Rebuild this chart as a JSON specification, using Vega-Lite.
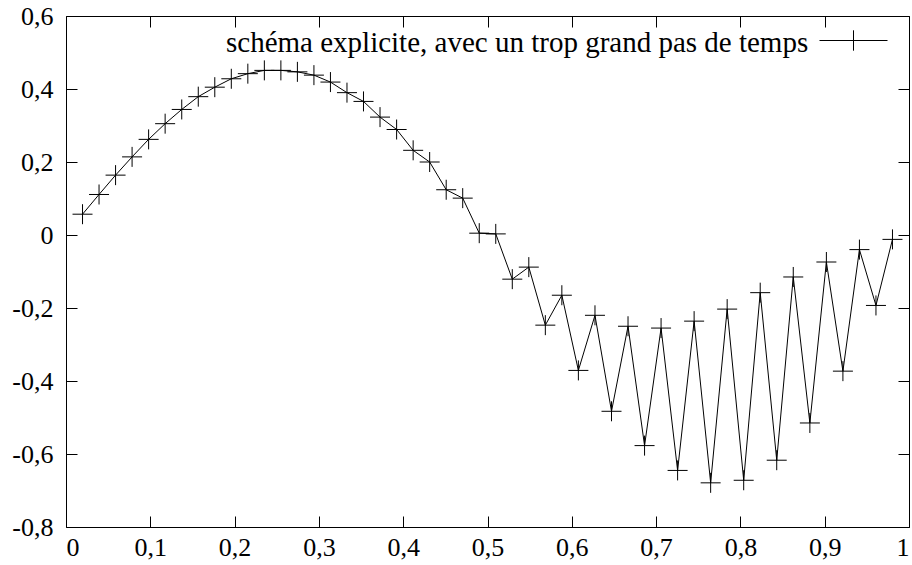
{
  "$schema": "https://vega.github.io/schema/vega-lite/v6.json",
  "width": 843,
  "height": 511,
  "autosize": {"type": "none"},
  "padding": {"left": 66, "top": 16, "right": 3, "bottom": 38},
  "background": "white",
  "config": {
    "view": {"stroke": null},
    "font": "Liberation Serif",
    "axis": {
      "domainColor": "black",
      "domainWidth": 1,
      "tickColor": "black",
      "tickWidth": 1,
      "labelColor": "black",
      "labelFont": "Liberation Serif",
      "labelFontSize": 26,
      "grid": false,
      "title": null
    }
  },
  "data": {
    "values": [
      {"x": 0.0196, "y": 0.057, "serie": "s"},
      {"x": 0.0392, "y": 0.111, "serie": "s"},
      {"x": 0.0588, "y": 0.164, "serie": "s"},
      {"x": 0.0784, "y": 0.214, "serie": "s"},
      {"x": 0.0980, "y": 0.262, "serie": "s"},
      {"x": 0.1176, "y": 0.305, "serie": "s"},
      {"x": 0.1373, "y": 0.344, "serie": "s"},
      {"x": 0.1569, "y": 0.379, "serie": "s"},
      {"x": 0.1765, "y": 0.405, "serie": "s"},
      {"x": 0.1961, "y": 0.428, "serie": "s"},
      {"x": 0.2157, "y": 0.442, "serie": "s"},
      {"x": 0.2353, "y": 0.451, "serie": "s"},
      {"x": 0.2549, "y": 0.451, "serie": "s"},
      {"x": 0.2745, "y": 0.447, "serie": "s"},
      {"x": 0.2941, "y": 0.438, "serie": "s"},
      {"x": 0.3137, "y": 0.419, "serie": "s"},
      {"x": 0.3333, "y": 0.390, "serie": "s"},
      {"x": 0.3529, "y": 0.366, "serie": "s"},
      {"x": 0.3725, "y": 0.323, "serie": "s"},
      {"x": 0.3922, "y": 0.289, "serie": "s"},
      {"x": 0.4118, "y": 0.232, "serie": "s"},
      {"x": 0.4314, "y": 0.200, "serie": "s"},
      {"x": 0.4510, "y": 0.124, "serie": "s"},
      {"x": 0.4706, "y": 0.101, "serie": "s"},
      {"x": 0.4902, "y": 0.005, "serie": "s"},
      {"x": 0.5098, "y": 0.003, "serie": "s"},
      {"x": 0.5294, "y": -0.121, "serie": "s"},
      {"x": 0.5490, "y": -0.088, "serie": "s"},
      {"x": 0.5686, "y": -0.247, "serie": "s"},
      {"x": 0.5882, "y": -0.165, "serie": "s"},
      {"x": 0.6078, "y": -0.371, "serie": "s"},
      {"x": 0.6275, "y": -0.220, "serie": "s"},
      {"x": 0.6471, "y": -0.483, "serie": "s"},
      {"x": 0.6667, "y": -0.250, "serie": "s"},
      {"x": 0.6863, "y": -0.577, "serie": "s"},
      {"x": 0.7059, "y": -0.255, "serie": "s"},
      {"x": 0.7255, "y": -0.645, "serie": "s"},
      {"x": 0.7451, "y": -0.236, "serie": "s"},
      {"x": 0.7647, "y": -0.679, "serie": "s"},
      {"x": 0.7843, "y": -0.203, "serie": "s"},
      {"x": 0.8039, "y": -0.672, "serie": "s"},
      {"x": 0.8235, "y": -0.158, "serie": "s"},
      {"x": 0.8431, "y": -0.617, "serie": "s"},
      {"x": 0.8627, "y": -0.115, "serie": "s"},
      {"x": 0.8824, "y": -0.515, "serie": "s"},
      {"x": 0.9020, "y": -0.074, "serie": "s"},
      {"x": 0.9216, "y": -0.373, "serie": "s"},
      {"x": 0.9412, "y": -0.040, "serie": "s"},
      {"x": 0.9608, "y": -0.193, "serie": "s"},
      {"x": 0.9804, "y": -0.012, "serie": "s"}
    ]
  },
  "layer": [
    {
      "mark": {"type": "line", "color": "black", "strokeWidth": 1},
      "encoding": {
        "x": {
          "field": "x", "type": "quantitative",
          "scale": {"domain": [0, 1], "nice": false, "zero": false},
          "axis": {
            "orient": "bottom",
            "values": [0, 0.1, 0.2, 0.3, 0.4, 0.5, 0.6, 0.7, 0.8, 0.9, 1],
            "tickSize": -11,
            "labelPadding": 18,
            "labelFont": "Liberation Serif",
            "labelFontSize": 26,
            "labelColor": "black",
            "labelExpr": "abs(datum.value) < 1e-9 ? '0' : (abs(datum.value - 1) < 1e-9 ? '1' : replace(format(datum.value, '.1f'), '.', ','))"
          }
        },
        "y": {
          "field": "y", "type": "quantitative",
          "scale": {"domain": [-0.8, 0.6], "nice": false, "zero": false},
          "axis": {
            "orient": "left",
            "values": [-0.8, -0.6, -0.4, -0.2, 0, 0.2, 0.4, 0.6],
            "tickSize": -11,
            "labelPadding": 24,
            "labelFont": "Liberation Serif",
            "labelFontSize": 26,
            "labelColor": "black",
            "labelExpr": "abs(datum.value) < 1e-9 ? '0' : ((datum.value < 0 ? '-' : '') + replace(format(abs(datum.value), '.1f'), '.', ','))"
          }
        },
        "color": {
          "field": "serie", "type": "nominal",
          "scale": {"range": ["black"]},
          "legend": {
            "title": "schéma explicite, avec un trop grand pas de temps",
            "titleOrient": "left",
            "titleAnchor": "middle",
            "titleFont": "Liberation Serif",
            "titleFontSize": 29,
            "titleFontWeight": "normal",
            "titleColor": "black",
            "titleBaseline": "top",
            "titleLimit": 2000,
            "titlePadding": 10,
            "labelExpr": "''",
            "labelFontSize": 1,
            "symbolType": "M-1,0H1M0,-0.3V0.3",
            "symbolSize": 4624,
            "symbolStrokeColor": "black",
            "symbolFillColor": "transparent",
            "symbolStrokeWidth": 1,
            "orient": "none",
            "legendX": 160,
            "legendY": -10,
            "padding": 0
          }
        }
      }
    },
    {
      "mark": {"type": "point", "shape": "M-1,0H1M0,-1V1", "size": 400, "filled": false, "strokeWidth": 1, "opacity": 1},
      "encoding": {
        "x": {"field": "x", "type": "quantitative", "axis": null},
        "y": {"field": "y", "type": "quantitative", "axis": null},
        "color": {"field": "serie", "type": "nominal"}
      }
    },
    {
      "mark": {"type": "point", "opacity": 0},
      "encoding": {
        "x": {
          "field": "x", "type": "quantitative",
          "axis": {"orient": "top", "values": [0, 0.1, 0.2, 0.3, 0.4, 0.5, 0.6, 0.7, 0.8, 0.9, 1], "tickSize": -11, "labels": false}
        },
        "y": {
          "field": "y", "type": "quantitative",
          "axis": {"orient": "right", "values": [-0.8, -0.6, -0.4, -0.2, 0, 0.2, 0.4, 0.6], "tickSize": -11, "labels": false}
        }
      }
    }
  ],
  "resolve": {"axis": {"x": "independent", "y": "independent"}}
}
